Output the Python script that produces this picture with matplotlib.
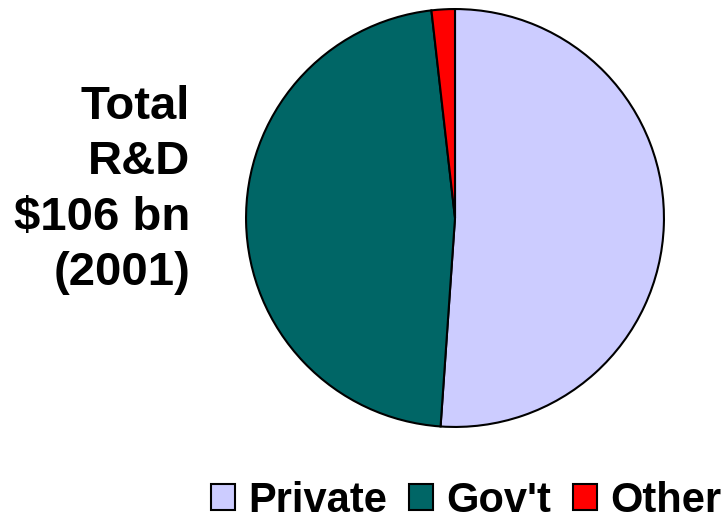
import matplotlib.pyplot as plt

plt.rcParams['font.family'] = ['Liberation Sans', 'DejaVu Sans']

labels = ["Private", "Gov't", "Other"]
shares = [51.1, 47.1, 1.8]
colors = ["#CCCCFF", "#006666", "#FF0000"]

W, H = 724, 520
fig = plt.figure(figsize=(W / 100, H / 100), dpi=100)

# pie axes: centre (455, 218), radius 210 px
cx, cy, r = 455, 218, 210
ax = fig.add_axes([(cx - r) / W, (H - cy - r) / H, 2 * r / W, 2 * r / H])
wedges, _ = ax.pie(shares, colors=colors, startangle=90, counterclock=False,
                   wedgeprops=dict(edgecolor="black", linewidth=1.5))
ax.set_xlim(-1.005, 1.005)
ax.set_ylim(-1.005, 1.005)
ax.set_aspect("equal")

fig.text(190 / W, 1 - 190 / H, "Total\nR&D\n$106 bn\n(2001)",
         ha="right", va="center", fontsize=34, fontweight="bold",
         linespacing=1.33)

leg = fig.legend(wedges, labels, loc="center right", ncol=3,
                 bbox_to_anchor=(721 / W, 1 - 501 / H), frameon=False,
                 prop=dict(size=30, weight="bold"),
                 handlelength=0.58, handleheight=0.58,
                 handletextpad=0.31, columnspacing=0.53, borderpad=0,
                 borderaxespad=0)
for h in leg.legend_handles:
    h.set_linewidth(1.5)

fig.savefig("out.png", dpi=100)
